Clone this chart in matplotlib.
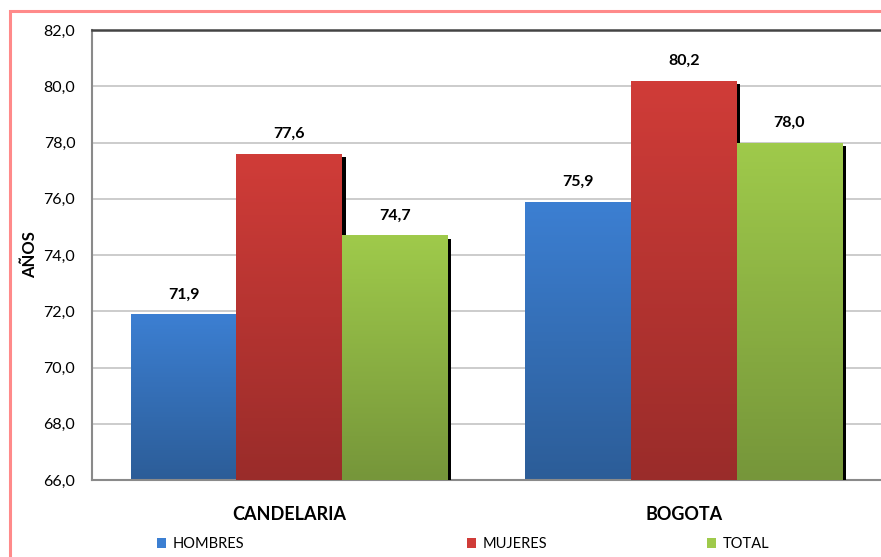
import numpy as np
import matplotlib
matplotlib.use("Agg")
import matplotlib.pyplot as plt
from matplotlib.patches import Patch, Rectangle
from matplotlib.colors import LinearSegmentedColormap
import matplotlib.patheffects as pe

# Data
places = ["CANDELARIA", "BOGOTA"]
series = ["HOMBRES", "MUJERES", "TOTAL"]
hombres = [71.9, 75.9]
mujeres = [77.6, 80.2]
total = [74.7, 78.0]
values = [hombres, mujeres, total]
yticks = [66, 68, 70, 72, 74, 76, 78, 80, 82]

# top / bottom colours of each gradient
grads = [("#3c7fd2", "#2c5d98"), ("#d03c38", "#9a2c2a"), ("#9fca4b", "#76963a")]

plt.rcParams["font.family"] = ["Lato", "DejaVu Sans"]

fig = plt.figure(figsize=(8.81, 5.57), dpi=100)
ax = fig.add_axes([92 / 881, 1 - 480 / 557, 1 - 92 / 881, 450 / 557])

# pink frame round the chart
fig.patches.append(Rectangle((10 / 881, -0.05), 1.1, 1 - 11 / 557 + 0.05,
                             transform=fig.transFigure, fill=False,
                             edgecolor="#ff8a8a", linewidth=2.2))

x = np.arange(len(places))
width = 0.268
z = 2
for i, (name, vals) in enumerate(zip(series, values)):
    pos = x + (i - 1) * width
    bars = ax.bar(pos, [v - 66 for v in vals], width, bottom=66,
                  color=grads[i][0], zorder=z, linewidth=0,
                  path_effects=[pe.SimplePatchShadow(offset=(2.6, -2.6), shadow_rgbFace="black", alpha=1.0),
                                pe.Normal()])
    cmap = LinearSegmentedColormap.from_list("g%d" % i, [grads[i][1], grads[i][0]])
    for b, v in zip(bars, vals):
        grad = np.linspace(0, 1, 100).reshape(-1, 1)
        im = ax.imshow(grad, cmap=cmap, origin="lower", aspect="auto",
                       extent=[b.get_x(), b.get_x() + b.get_width(), 66, v],
                       zorder=z + 0.5)
        im.set_clip_path(b)
        ax.text(b.get_x() + b.get_width() / 2, v + 0.45, f"{v:.1f}".replace(".", ","),
                ha="center", va="bottom", fontsize=11.5, fontweight="bold", zorder=10)
    z += 1

ax.set_xlim(-0.5, 1.5)
ax.set_ylim(66, 82)
ax.set_yticks(yticks)
ax.set_yticklabels([f"{t:.1f}".replace(".", ",") for t in yticks], fontsize=11.5)
ax.set_xticks(x)
ax.set_xticklabels(places, fontsize=13, fontweight="bold")
ax.tick_params(axis="x", length=0, pad=19)
ax.tick_params(axis="y", length=0, pad=12)
ax.grid(axis="y", color="#c4c4c4", linewidth=1.2, zorder=0)
ax.set_axisbelow(True)
ax.set_ylabel("AÑOS", fontsize=12, fontweight="bold", va="center")
ax.yaxis.set_label_coords(-62 / 789, 0.5)

ax.spines["right"].set_visible(False)
ax.spines["left"].set_color("#8a8a8a")
ax.spines["bottom"].set_color("#8a8a8a")
ax.spines["left"].set_linewidth(1.5)
ax.spines["bottom"].set_linewidth(1.5)
ax.spines["top"].set_color("#444444")
ax.spines["top"].set_linewidth(1.8)

# legend, one entry at a time like the original spacing
legend_x = [157 / 881, 467 / 881, 707 / 881]
for i, name in enumerate(series):
    fig.legend(handles=[Patch(facecolor=grads[i][0], edgecolor="none")], labels=[name],
               loc="center left", bbox_to_anchor=(legend_x[i], 1 - 544 / 557),
               frameon=False, fontsize=10.5, handlelength=0.65, handleheight=0.65,
               handletextpad=0.4, borderpad=0, borderaxespad=0)

fig.savefig("out.png", dpi=100)
